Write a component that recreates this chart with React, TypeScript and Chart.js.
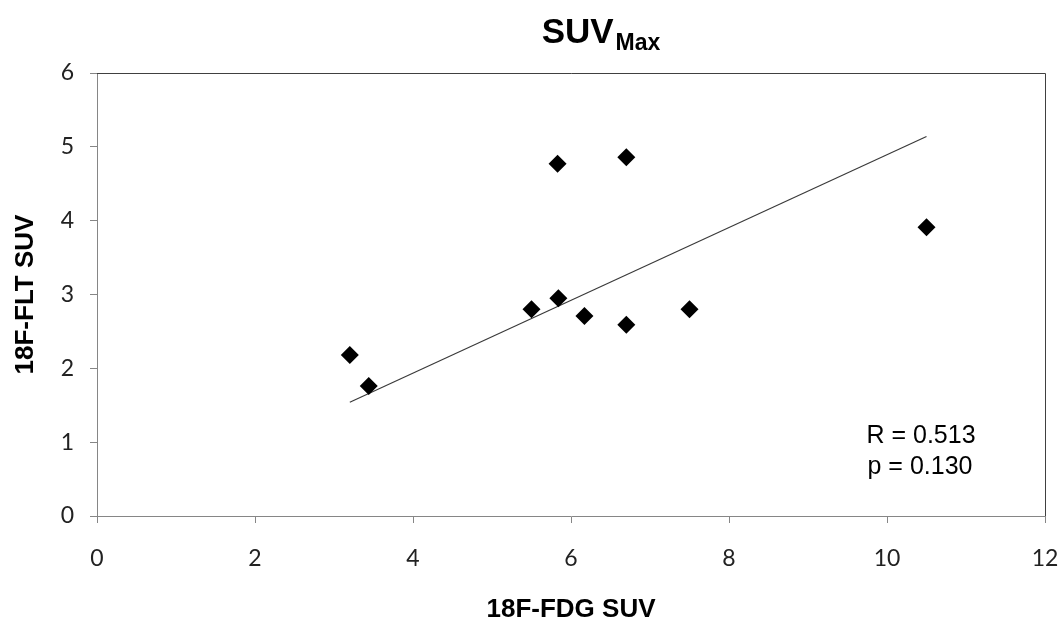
import React, { useEffect, useRef } from "react";
import { Chart, registerables } from "chart.js";

Chart.register(...registerables);

// FDG SUV (x) vs FLT SUV (y)
const fdgSuv = [3.2, 3.44, 5.5, 5.84, 5.83, 6.17, 6.7, 6.7, 7.5, 10.5];
const fltSuv = [2.18, 1.76, 2.8, 2.95, 4.77, 2.71, 4.86, 2.59, 2.8, 3.91];

// Linear trend line endpoints
const trendX = [3.2, 10.5];
const trendY = [1.54, 5.14];

const titleMain = "SUV";
const titleSub = "Max";
const xTitle = "18F-FDG SUV";
const yTitle = "18F-FLT SUV";
const statLines = ["R = 0.513", "p = 0.130"];

const xMin = 0, xMax = 12, xStep = 2;
const yMin = 0, yMax = 6, yStep = 1;

const SANS = '"Liberation Sans", Arial, sans-serif';

const decorPlugin = {
  id: "decor",
  afterDraw(chart: any) {
    const ctx = chart.ctx;
    const { left, right, top, bottom } = chart.chartArea;
    ctx.save();
    // top & right frame
    ctx.strokeStyle = "#404040";
    ctx.lineWidth = 1;
    ctx.beginPath();
    ctx.moveTo(left, Math.round(top) + 0.5);
    ctx.lineTo(Math.round(right) + 0.5, Math.round(top) + 0.5);
    ctx.lineTo(Math.round(right) + 0.5, bottom);
    ctx.stroke();

    ctx.fillStyle = "#000";
    // Chart title with subscript
    ctx.textBaseline = "alphabetic";
    ctx.textAlign = "left";
    ctx.font = `bold 35px ${SANS}`;
    const w1 = ctx.measureText(titleMain).width;
    ctx.font = `bold 23px ${SANS}`;
    const w2 = ctx.measureText(titleSub).width;
    const tx = 601 - (w1 + w2 + 2) / 2;
    ctx.font = `bold 35px ${SANS}`;
    ctx.fillText(titleMain, tx, 43);
    ctx.font = `bold 23px ${SANS}`;
    ctx.fillText(titleSub, tx + w1 + 2, 50);

    // x axis title
    ctx.font = `bold 26px ${SANS}`;
    ctx.textAlign = "center";
    ctx.fillText(xTitle, (left + right) / 2, 617);

    // y axis title
    ctx.save();
    ctx.translate(26, (top + bottom) / 2);
    ctx.rotate(-Math.PI / 2);
    ctx.textBaseline = "middle";
    ctx.fillText(yTitle, 0, 0);
    ctx.restore();

    // stats annotation
    ctx.font = `25px ${SANS}`;
    ctx.textAlign = "center";
    ctx.fillText(statLines[0], 921, 443);
    ctx.fillText(statLines[1], 920, 474);
    ctx.restore();
  },
};

export default function App() {
  const ref = useRef<HTMLCanvasElement | null>(null);
  useEffect(() => {
    document.body.style.margin = "0";
    const canvas = ref.current!;
    const chart = new Chart(canvas, {
      type: "scatter",
      data: {
        datasets: [
          {
            type: "line",
            data: trendX.map((x, i) => ({ x, y: trendY[i] })),
            borderColor: "#3a3a3a",
            borderWidth: 1.2,
            pointRadius: 0,
            fill: false,
            order: 2,
          } as any,
          {
            data: fdgSuv.map((x, i) => ({ x, y: fltSuv[i] })),
            pointStyle: "rectRot",
            pointRadius: 9,
            pointBackgroundColor: "#000",
            pointBorderColor: "#000",
            pointBorderWidth: 0,
            backgroundColor: "#000",
            borderColor: "#000",
            order: 1,
          },
        ],
      },
      options: {
        animation: false,
        responsive: false,
        maintainAspectRatio: false,
        layout: { padding: { top: 73, right: 19, left: 0, bottom: 0 } },
        plugins: {
          legend: { display: false },
          tooltip: { enabled: false },
          title: { display: false },
        },
        scales: {
          x: {
            type: "linear",
            min: xMin,
            max: xMax,
            ticks: {
              stepSize: xStep,
              font: { family: "Lato", size: 23 },
              color: "#222",
              padding: 22,
            },
            grid: {
              drawOnChartArea: false,
              drawTicks: true,
              tickLength: 7,
              color: "#868686",
            },
            border: { color: "#868686", width: 1 },
            afterFit: (scale: any) => {
              scale.height = 108;
              scale.paddingLeft = 0;
              scale.paddingRight = 0;
            },
          },
          y: {
            type: "linear",
            min: yMin,
            max: yMax,
            ticks: {
              stepSize: yStep,
              font: { family: "Lato", size: 23 },
              color: "#222",
              padding: 16,
            },
            grid: {
              drawOnChartArea: false,
              drawTicks: true,
              tickLength: 7,
              color: "#868686",
            },
            border: { color: "#868686", width: 1 },
            afterFit: (scale: any) => {
              scale.width = 97;
              scale.paddingTop = 0;
              scale.paddingBottom = 0;
            },
          },
        },
      },
      plugins: [decorPlugin],
    });
    return () => chart.destroy();
  }, []);
  return (
    <div style={{ position: "relative", width: 1064, height: 624, background: "#fff" }}>
      <canvas ref={ref} width={1064} height={624} style={{ display: "block" }} />
    </div>
  );
}
